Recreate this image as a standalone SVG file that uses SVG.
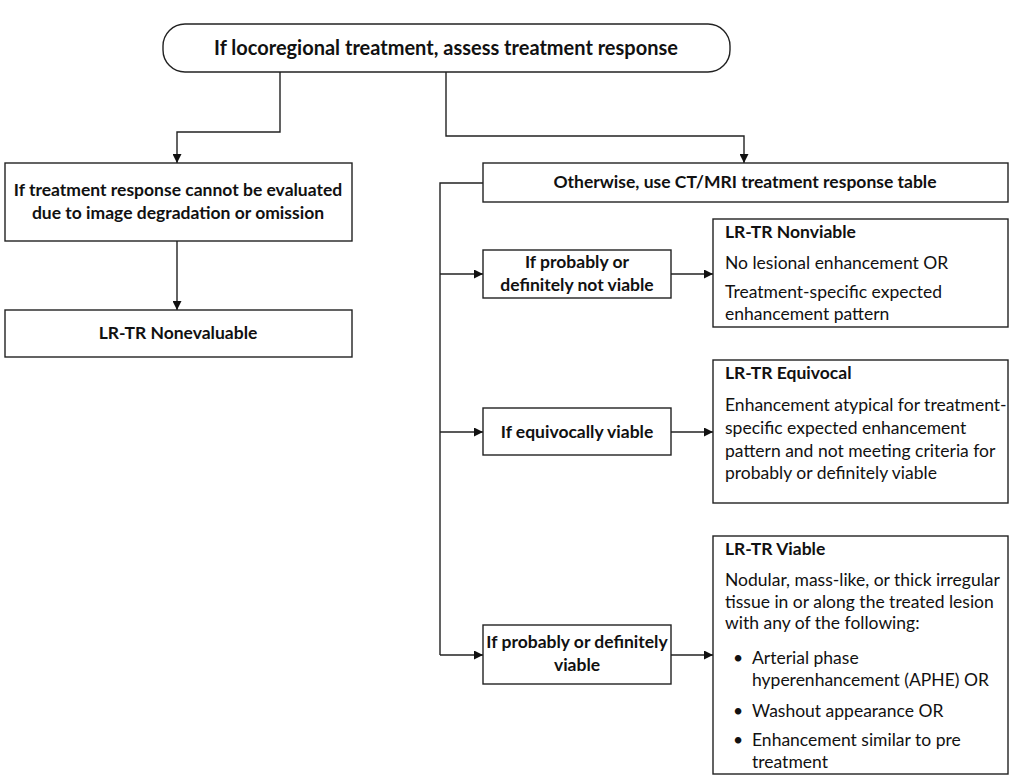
<svg xmlns="http://www.w3.org/2000/svg" width="1031" height="779" viewBox="0 0 1031 779">
<style>
.box{fill:#fff;stroke:#222;stroke-width:1.4}
.ln{fill:none;stroke:#222;stroke-width:1.4}
text{font-family:Lato,"Open Sans",sans-serif;fill:#111;font-size:17.5px}
.b{font-weight:bold}
.c{text-anchor:middle}
</style>
<defs>
<marker id="ah" viewBox="0 0 10 10" refX="10" refY="5" markerWidth="9" markerHeight="9" markerUnits="userSpaceOnUse" orient="auto">
<path d="M0,0 L10,5 L0,10 z" fill="#111"/>
</marker>
</defs>
<rect width="1031" height="779" fill="#fff"/>
<g id="connectors">
<path class="ln" d="M280,72 V132 H177 V163" marker-end="url(#ah)"/>
<path class="ln" d="M446,72 V136 H744 V163" marker-end="url(#ah)"/>
<path class="ln" d="M177,241 V310" marker-end="url(#ah)"/>
<path class="ln" d="M483,183 H440 V655"/>
<path class="ln" d="M440,274 H483" marker-end="url(#ah)"/>
<path class="ln" d="M440,432 H483" marker-end="url(#ah)"/>
<path class="ln" d="M440,655 H483" marker-end="url(#ah)"/>
<path class="ln" d="M671,274 H713" marker-end="url(#ah)"/>
<path class="ln" d="M671,432 H713" marker-end="url(#ah)"/>
<path class="ln" d="M671,655 H713" marker-end="url(#ah)"/>
</g>
<g id="start">
<rect class="box" x="163" y="24" width="567" height="48" rx="22"/>
<text class="b c" x="446" y="54.5" style="font-size:20px">If locoregional treatment, assess treatment response</text>
</g>
<g id="nonevaluable-q">
<rect class="box" x="5" y="163" width="347" height="78"/>
<text class="b c" x="178" y="196">If treatment response cannot be evaluated</text>
<text class="b c" x="178" y="219">due to image degradation or omission</text>
</g>
<g id="nonevaluable">
<rect class="box" x="5" y="310" width="347" height="47"/>
<text class="b c" x="178" y="339">LR-TR Nonevaluable</text>
</g>
<g id="otherwise">
<rect class="box" x="483" y="163" width="525" height="39"/>
<text class="b c" x="745" y="188">Otherwise, use CT/MRI treatment response table</text>
</g>
<g id="q-nonviable">
<rect class="box" x="483" y="250" width="188" height="48"/>
<text class="b c" x="577" y="268">If probably or</text>
<text class="b c" x="577" y="291">definitely not viable</text>
</g>
<g id="nonviable">
<rect class="box" x="713" y="219" width="295" height="108"/>
<text class="b" x="725" y="238">LR-TR Nonviable</text>
<text x="725" y="269">No lesional enhancement OR</text>
<text x="725" y="298">Treatment-specific expected</text>
<text x="725" y="320">enhancement pattern</text>
</g>
<g id="q-equivocal">
<rect class="box" x="483" y="408" width="188" height="47"/>
<text class="b c" x="577" y="438">If equivocally viable</text>
</g>
<g id="equivocal">
<rect class="box" x="713" y="360" width="295" height="143"/>
<text class="b" x="725" y="379">LR-TR Equivocal</text>
<text x="725" y="411">Enhancement atypical for treatment-</text>
<text x="725" y="434">specific expected enhancement</text>
<text x="725" y="457">pattern and not meeting criteria for</text>
<text x="725" y="479">probably or definitely viable</text>
</g>
<g id="q-viable">
<rect class="box" x="483" y="625" width="188" height="59"/>
<text class="b c" x="577" y="648">If probably or definitely</text>
<text class="b c" x="577" y="671">viable</text>
</g>
<g id="viable">
<rect class="box" x="713" y="536" width="295" height="238"/>
<text class="b" x="725" y="555">LR-TR Viable</text>
<text x="725" y="586">Nodular, mass-like, or thick irregular</text>
<text x="725" y="608">tissue in or along the treated lesion</text>
<text x="725" y="629">with any of the following:</text>
<text x="733" y="664">•</text>
<text x="752" y="664">Arterial phase</text>
<text x="752" y="686">hyperenhancement (APHE) OR</text>
<text x="733" y="717">•</text>
<text x="752" y="717">Washout appearance OR</text>
<text x="733" y="746">•</text>
<text x="752" y="746">Enhancement similar to pre</text>
<text x="752" y="768">treatment</text>
</g>
</svg>
